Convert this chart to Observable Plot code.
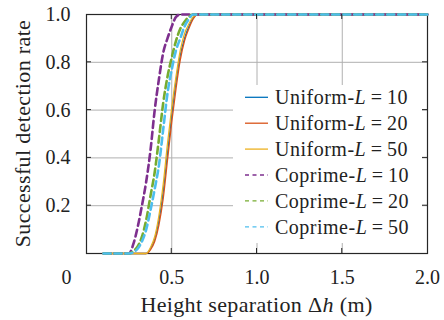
<!DOCTYPE html>
<html>
<head>
<meta charset="utf-8">
<script src="https://cdn.jsdelivr.net/npm/d3@7"></script>
<script src="https://cdn.jsdelivr.net/npm/@observablehq/plot@0.6"></script>
<style>
  html, body { margin: 0; padding: 0; background: white; }
</style>
</head>
<body>
<div id="chart"></div>
<script>
// ---- data ----
const xs = [0.1, 0.2, 0.25, 0.275, 0.3, 0.325, 0.35, 0.375, 0.4, 0.425, 0.45, 0.475, 0.5, 0.525, 0.55, 0.575, 0.6, 0.625, 0.65, 0.7, 0.8, 1.0, 1.5, 2.0];
const uniform10 = [0, 0, 0, 0, 0, 0, 0, 0.02, 0.06, 0.14, 0.26, 0.42, 0.58, 0.72, 0.83, 0.90, 0.95, 0.985, 1, 1, 1, 1, 1, 1];
const uniform20 = [0, 0, 0, 0, 0, 0, 0, 0.015, 0.05, 0.12, 0.23, 0.39, 0.55, 0.69, 0.81, 0.89, 0.94, 0.98, 1, 1, 1, 1, 1, 1];
const uniform50 = [0, 0, 0, 0, 0, 0, 0, 0.025, 0.07, 0.16, 0.29, 0.46, 0.61, 0.74, 0.85, 0.92, 0.96, 0.99, 1, 1, 1, 1, 1, 1];
const coprime10 = [0, 0, 0, 0.04, 0.11, 0.20, 0.30, 0.43, 0.60, 0.73, 0.84, 0.90, 0.95, 0.99, 1, 1, 1, 1, 1, 1, 1, 1, 1, 1];
const coprime20 = [0, 0, 0, 0.01, 0.03, 0.07, 0.14, 0.24, 0.34, 0.48, 0.63, 0.74, 0.82, 0.89, 0.94, 0.97, 0.99, 1, 1, 1, 1, 1, 1, 1];
const coprime50 = [0, 0, 0, 0.005, 0.02, 0.05, 0.10, 0.18, 0.27, 0.37, 0.52, 0.67, 0.77, 0.85, 0.90, 0.95, 0.98, 1, 1, 1, 1, 1, 1, 1];

const seriesNames = ["Uniform-L=10", "Uniform-L=20", "Uniform-L=50", "Coprime-L=10", "Coprime-L=20", "Coprime-L=50"];
const seriesValues = [uniform10, uniform20, uniform50, coprime10, coprime20, coprime50];
const seriesColors = ["#0072BD", "#D95319", "#EDB120", "#7E2F8E", "#77AC30", "#4DBEEE"];
const seriesDashed = [false, false, false, true, true, true];

const xTickValues = [0.5, 1.0, 1.5, 2.0];
const yTickValues = [0.2, 0.4, 0.6, 0.8, 1.0];
const xGridValues = [0.5, 1.0, 1.5];
const yGridValues = [0.2, 0.4, 0.6, 0.8];
const xLabelPrefix = "Height separation Δ";
const xLabelItalic = "h";
const xLabelSuffix = " (m)";
const yLabel = "Successful detection rate";

// ---- build table ----
const rows = [];
seriesNames.forEach((name, i) => {
  xs.forEach((x, j) => rows.push({name, x, y: seriesValues[i][j], dashed: seriesDashed[i]}));
});
const solidRows = rows.filter(d => !d.dashed);
const dashedRows = rows.filter(d => d.dashed);

const FONT = "serif";
const fmt = d => d.toFixed(1);

const plot = Plot.plot({
  width: 444,
  height: 320,
  marginLeft: 86,
  marginRight: 17,
  marginTop: 14,
  marginBottom: 67,
  style: {fontFamily: FONT, fontSize: "20px", background: "white", color: "#222", overflow: "visible"},
  x: {domain: [0, 2]},
  y: {domain: [0, 1]},
  color: {domain: seriesNames, range: seriesColors},
  marks: [
    Plot.gridX(xGridValues, {stroke: "#b0b0b0", strokeOpacity: 1, strokeWidth: 1}),
    Plot.gridY(yGridValues, {stroke: "#b0b0b0", strokeOpacity: 1, strokeWidth: 1}),
    Plot.axisX(xTickValues, {tickSize: 0, tickPadding: 16, tickFormat: fmt, fontSize: 20, label: null, fill: "#222"}),
    Plot.axisX([0], {tickSize: 0, tickPadding: 16, tickFormat: d => "0", fontSize: 20, label: null, dx: -20, fill: "#222"}),
    Plot.axisY(yTickValues, {tickSize: 0, tickPadding: 16, tickFormat: fmt, fontSize: 20, label: null, fill: "#222"}),
    Plot.frame({stroke: "#262626", strokeWidth: 1.2}),
    Plot.line(solidRows, {x: "x", y: "y", z: "name", stroke: "name", strokeWidth: 1.3, curve: "monotone-x"}),
    Plot.line(dashedRows, {x: "x", y: "y", z: "name", stroke: "name", strokeWidth: 2.6, strokeDasharray: "7,4", curve: "monotone-x"})
  ]
});

document.getElementById("chart").appendChild(plot);

const svg = d3.select(plot);
svg.attr("font-family", FONT);
const sx = plot.scale("x"), sy = plot.scale("y");
const X0 = sx.apply(0), X1 = sx.apply(2), Y0 = sy.apply(0), Y1 = sy.apply(1);

// legend
const lg = svg.append("g").attr("text-anchor", "start");
lg.append("rect").attr("x", 233).attr("y", 85).attr("width", 189).attr("height", 158).attr("fill", "white");
seriesNames.forEach((name, i) => {
  const cy = 97.3 + i * 25.9;
  lg.append("line").attr("x1", 245).attr("x2", 268).attr("y1", cy).attr("y2", cy)
    .attr("stroke", seriesColors[i]).attr("stroke-width", 1.3)
    .attr("stroke-dasharray", seriesDashed[i] ? "4,3.5" : null);
  const [pre, post] = name.split("L=");
  const t = lg.append("text").attr("x", 275).attr("y", cy).attr("dy", "0.35em")
    .attr("font-size", 20).attr("letter-spacing", 0.5).attr("fill", "#222");
  t.append("tspan").text(pre);
  t.append("tspan").attr("font-style", "italic").text("L");
  t.append("tspan").text("\u2009=\u2009" + post);
});

// inward ticks on all four sides
const tk = svg.append("g").attr("stroke", "#262626").attr("stroke-width", 1);
const TL = 5;
xGridValues.forEach(v => {
  const x = sx.apply(v);
  tk.append("line").attr("x1", x).attr("x2", x).attr("y1", Y0).attr("y2", Y0 - TL);
  tk.append("line").attr("x1", x).attr("x2", x).attr("y1", Y1).attr("y2", Y1 + TL);
});
yGridValues.forEach(v => {
  const y = sy.apply(v);
  tk.append("line").attr("x1", X0).attr("x2", X0 + TL).attr("y1", y).attr("y2", y);
  tk.append("line").attr("x1", X1).attr("x2", X1 - TL).attr("y1", y).attr("y2", y);
});

// axis labels
const xl = svg.append("text").attr("x", (X0 + X1) / 2).attr("y", 312).attr("text-anchor", "middle")
  .attr("font-size", 22).attr("letter-spacing", 0.35).attr("fill", "#222");
xl.append("tspan").text(xLabelPrefix);
xl.append("tspan").attr("font-style", "italic").text(xLabelItalic);
xl.append("tspan").text(xLabelSuffix);

svg.append("text").attr("transform", `translate(22,${(Y0 + Y1) / 2}) rotate(-90)`)
  .attr("text-anchor", "middle").attr("dy", "0.35em")
  .attr("font-size", 22).attr("letter-spacing", 0.35).attr("fill", "#222")
  .text(yLabel);

svg.selectAll("text").style("font-family", FONT);
</script>
</body>
</html>
